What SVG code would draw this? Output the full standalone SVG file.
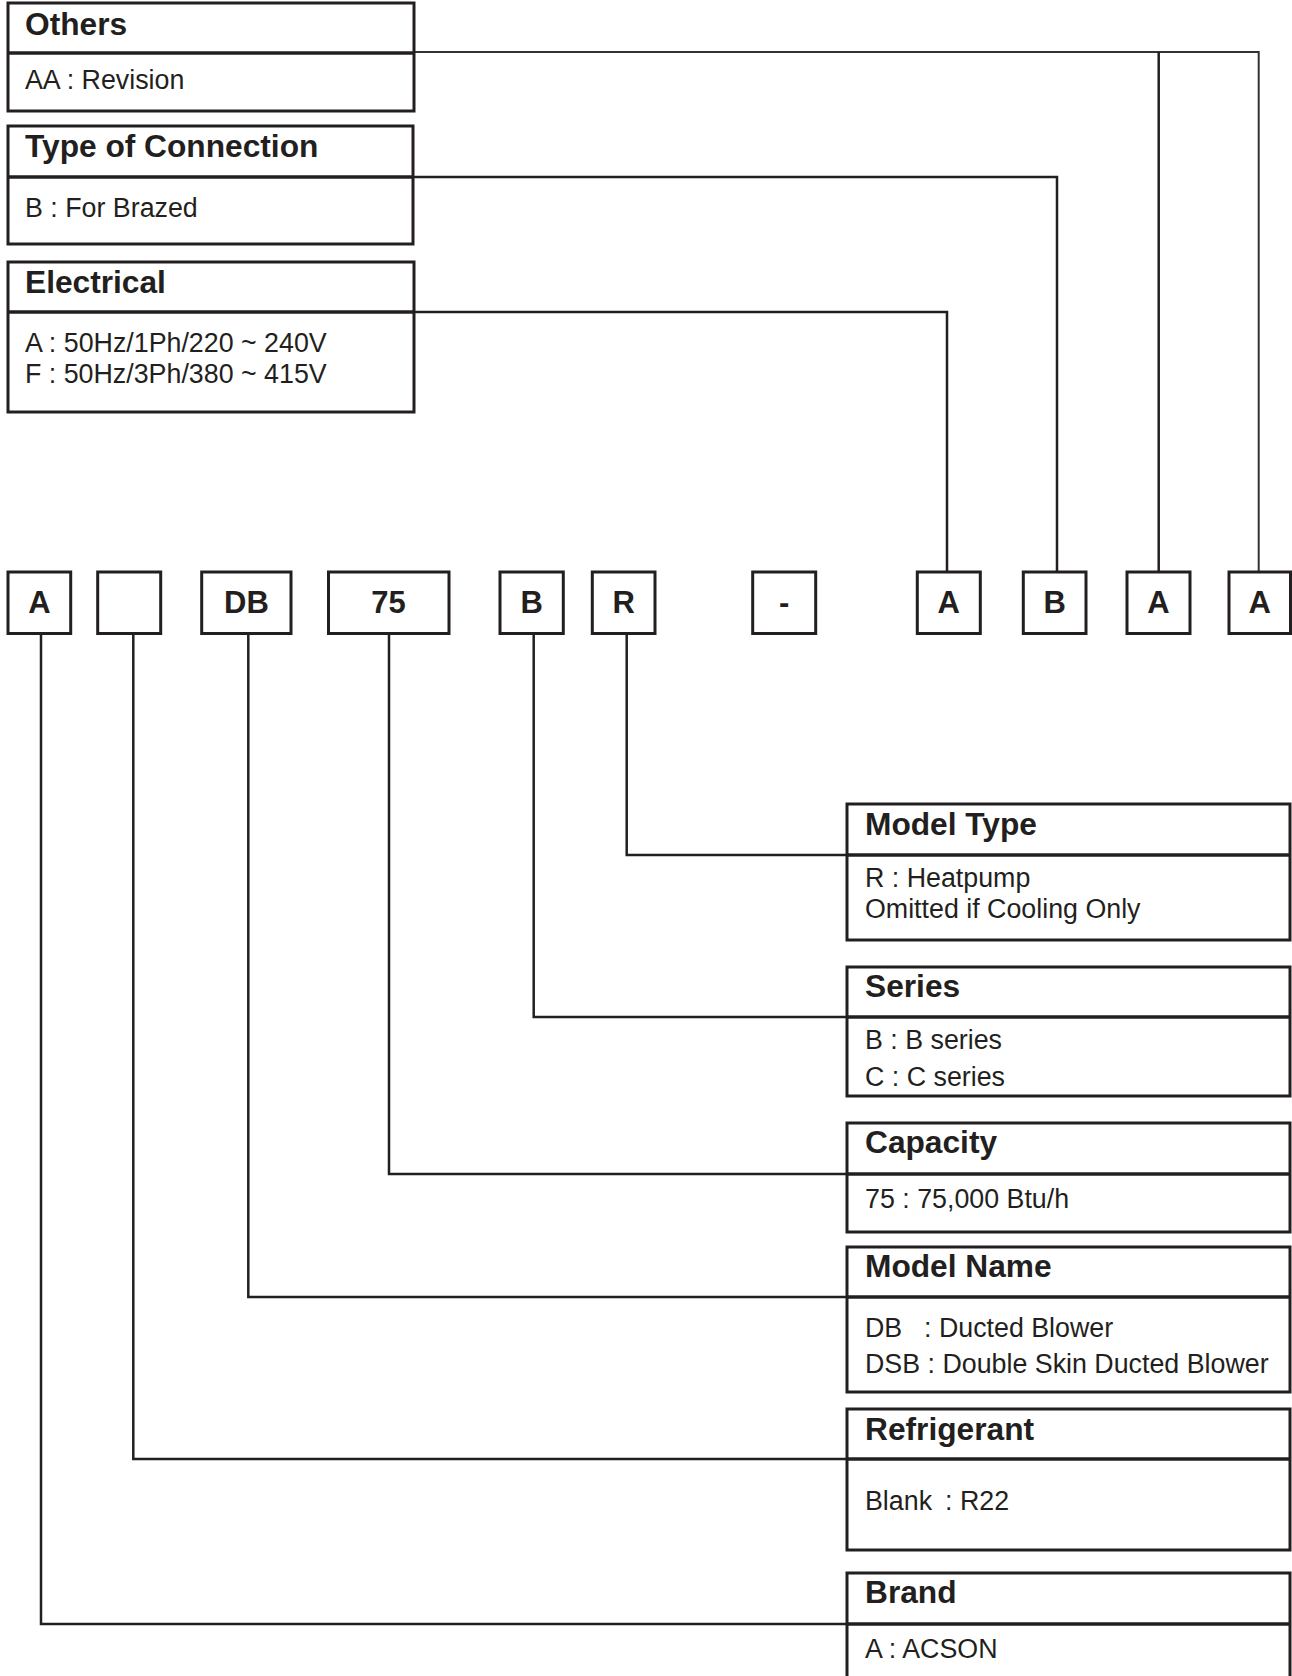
<svg xmlns="http://www.w3.org/2000/svg" width="1292" height="1676" viewBox="0 0 1292 1676">
<style>
  .box{fill:#fff;stroke:#231f20;stroke-width:3}
  .div{stroke:#231f20;stroke-width:3.5;fill:none}
  .con{stroke:#231f20;stroke-width:2.5;fill:none}
  .thin{stroke:#333;stroke-width:2;fill:none}
  .h{font-family:"Liberation Sans",Arial,sans-serif;font-weight:bold;font-size:31.7px;fill:#231f20}
  .t{font-family:"Liberation Sans",Arial,sans-serif;font-size:26.8px;fill:#231f20}
  .c{font-family:"Liberation Sans",Arial,sans-serif;font-weight:bold;font-size:31px;fill:#231f20;text-anchor:middle}
</style>
<rect x="0" y="0" width="1292" height="1676" fill="#fff"/>
<g id="connectors">
  <path class="thin" d="M414,52 H1258.7 V572"/>
  <path class="con" d="M1158.7,52 V572"/>
  <path class="con" d="M413,177 H1057 V572"/>
  <path class="con" d="M414,312 H947 V572"/>
  <path class="con" d="M626.7,634 V855 H847"/>
  <path class="con" d="M533.7,634 V1017 H847"/>
  <path class="con" d="M389,634 V1174 H847"/>
  <path class="con" d="M248.3,634 V1297 H847"/>
  <path class="con" d="M133.3,634 V1459 H847"/>
  <path class="con" d="M41,634 V1624 H847"/>
</g>
<g id="others">
  <rect class="box" x="8" y="3" width="406" height="108"/>
  <line class="div" x1="8" y1="53" x2="414" y2="53"/>
  <text class="h" x="25" y="35">Others</text>
  <text class="t" x="25" y="89">AA : Revision</text>
</g>
<g id="type-of-connection">
  <rect class="box" x="8" y="126" width="405" height="118"/>
  <line class="div" x1="8" y1="177" x2="413" y2="177"/>
  <text class="h" x="25" y="157">Type of Connection</text>
  <text class="t" x="25" y="217">B : For Brazed</text>
</g>
<g id="electrical">
  <rect class="box" x="8" y="262" width="406" height="150"/>
  <line class="div" x1="8" y1="312" x2="414" y2="312"/>
  <text class="h" x="25" y="293">Electrical</text>
  <text class="t" x="25" y="352">A : 50Hz/1Ph/220 ~ 240V</text>
  <text class="t" x="25" y="383">F : 50Hz/3Ph/380 ~ 415V</text>
</g>
<g id="code-A1"><rect class="box" x="8" y="572" width="62.7" height="61.5"/><text class="c" x="39.5" y="613">A</text></g>
<g id="code-blank"><rect class="box" x="97.7" y="572" width="63" height="61.5"/></g>
<g id="code-DB"><rect class="box" x="201.7" y="572" width="89.3" height="61.5"/><text class="c" x="246.5" y="613">DB</text></g>
<g id="code-75"><rect class="box" x="328.5" y="572" width="120.5" height="61.5"/><text class="c" x="388.5" y="613">75</text></g>
<g id="code-B1"><rect class="box" x="500" y="572" width="63.3" height="61.5"/><text class="c" x="531.7" y="613">B</text></g>
<g id="code-R"><rect class="box" x="592.3" y="572" width="62.7" height="61.5"/><text class="c" x="623.7" y="613">R</text></g>
<g id="code-dash"><rect class="box" x="752.7" y="572" width="63" height="61.5"/><text class="c" x="784.2" y="613">-</text></g>
<g id="code-A2"><rect class="box" x="917.3" y="572" width="63" height="61.5"/><text class="c" x="948.8" y="613">A</text></g>
<g id="code-B2"><rect class="box" x="1023.3" y="572" width="62.7" height="61.5"/><text class="c" x="1054.7" y="613">B</text></g>
<g id="code-A3"><rect class="box" x="1127" y="572" width="63" height="61.5"/><text class="c" x="1158.5" y="613">A</text></g>
<g id="code-A4"><rect class="box" x="1229" y="572" width="61.5" height="61.5"/><text class="c" x="1259.8" y="613">A</text></g>
<g id="model-type">
  <rect class="box" x="847" y="804" width="443" height="136"/>
  <line class="div" x1="847" y1="855" x2="1290" y2="855"/>
  <text class="h" x="865" y="835">Model Type</text>
  <text class="t" x="865" y="887">R : Heatpump</text>
  <text class="t" x="865" y="918">Omitted if Cooling Only</text>
</g>
<g id="series">
  <rect class="box" x="847" y="967" width="443" height="129"/>
  <line class="div" x1="847" y1="1017" x2="1290" y2="1017"/>
  <text class="h" x="865" y="997">Series</text>
  <text class="t" x="865" y="1049">B : B series</text>
  <text class="t" x="865" y="1086">C : C series</text>
</g>
<g id="capacity">
  <rect class="box" x="847" y="1123" width="443" height="109"/>
  <line class="div" x1="847" y1="1174" x2="1290" y2="1174"/>
  <text class="h" x="865" y="1153">Capacity</text>
  <text class="t" x="865" y="1208">75 : 75,000 Btu/h</text>
</g>
<g id="model-name">
  <rect class="box" x="847" y="1247" width="443" height="145"/>
  <line class="div" x1="847" y1="1297" x2="1290" y2="1297"/>
  <text class="h" x="865" y="1277">Model Name</text>
  <text class="t" x="865" y="1337">DB</text>
  <text class="t" x="924" y="1337">: Ducted Blower</text>
  <text class="t" x="865" y="1373">DSB : Double Skin Ducted Blower</text>
</g>
<g id="refrigerant">
  <rect class="box" x="847" y="1409" width="443" height="141"/>
  <line class="div" x1="847" y1="1459" x2="1290" y2="1459"/>
  <text class="h" x="865" y="1440">Refrigerant</text>
  <text class="t" x="865" y="1510">Blank</text>
  <text class="t" x="945" y="1510">: R22</text>
</g>
<g id="brand">
  <rect class="box" x="847" y="1573" width="443" height="120"/>
  <line class="div" x1="847" y1="1624" x2="1290" y2="1624"/>
  <text class="h" x="865" y="1603">Brand</text>
  <text class="t" x="865" y="1658">A : ACSON</text>
</g>
</svg>
